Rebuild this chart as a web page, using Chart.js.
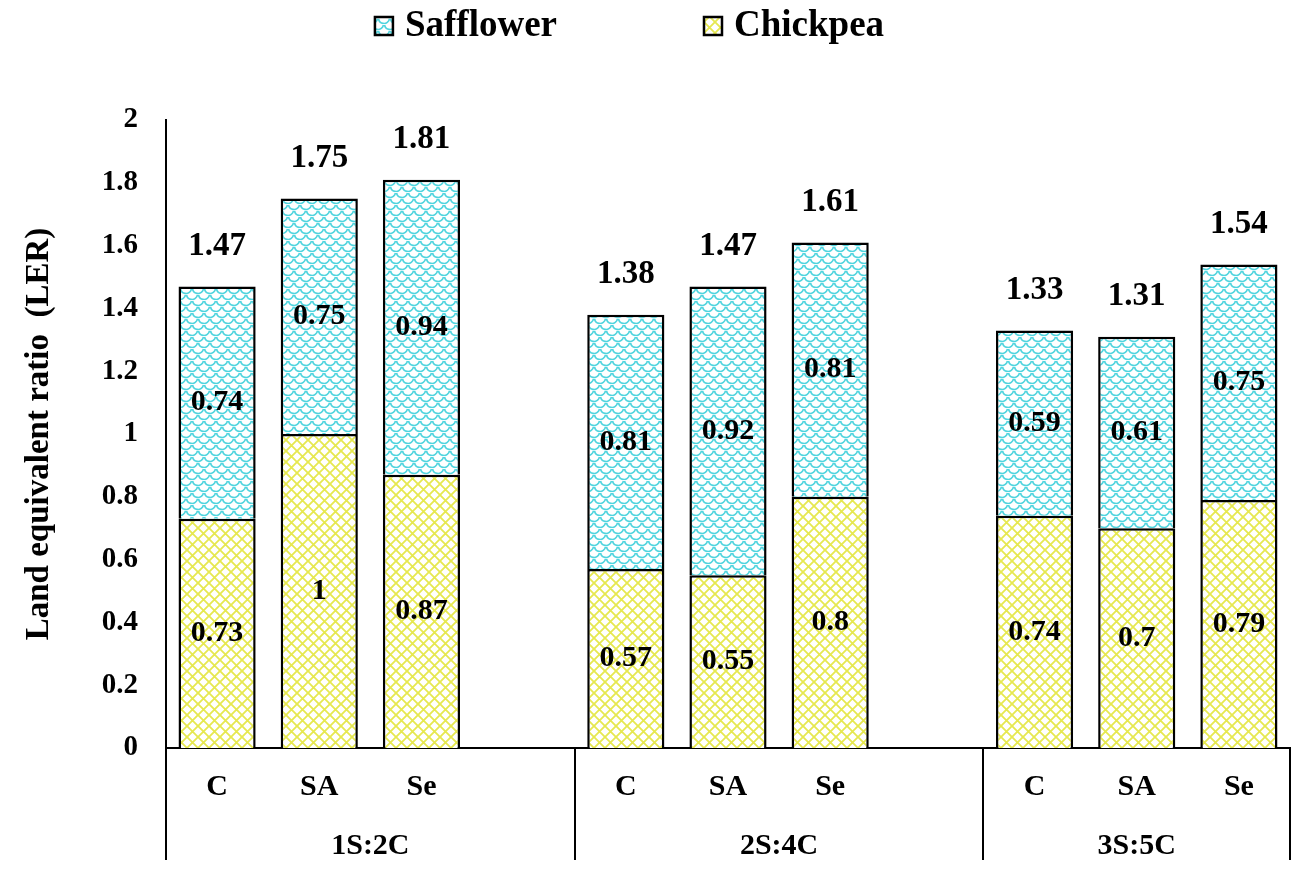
<!DOCTYPE html>
<html>
<head>
<meta charset="utf-8">
<script src="https://cdn.jsdelivr.net/npm/chart.js@4.4.1/dist/chart.umd.min.js"></script>
<style>
  html, body { margin: 0; padding: 0; background: #fff; }
  #wrap { width: 1299px; height: 871px; }
</style>
</head>
<body>
<div id="wrap"><canvas id="chart1"></canvas></div>
<script>
const groups = ['1S:2C', '2S:4C', '3S:5C'];
const treatments = ['C', 'SA', 'Se'];
// empty slot after each group, same as the sheet
const categories = ['C', 'SA', 'Se', '', 'C', 'SA', 'Se', '', 'C', 'SA', 'Se'];
const chickpea = [0.73, 1, 0.87, null, 0.57, 0.55, 0.8, null, 0.74, 0.7, 0.79];
const safflower = [0.74, 0.75, 0.94, null, 0.81, 0.92, 0.81, null, 0.59, 0.61, 0.75];
const totals = [1.47, 1.75, 1.81, null, 1.38, 1.47, 1.61, null, 1.33, 1.31, 1.54];
const yTicks = ['0', '0.2', '0.4', '0.6', '0.8', '1', '1.2', '1.4', '1.6', '1.8', '2'];

const SERIF = "'Liberation Serif', 'Times New Roman', serif";

const canvas = document.getElementById('chart1');
const c2d = canvas.getContext('2d');

function makeTile(size, draw) {
    const t = document.createElement('canvas');
    t.width = size;
    t.height = size;
    const g = t.getContext('2d');
    g.fillStyle = '#fff';
    g.fillRect(0, 0, size, size);
    draw(g, size);
    return c2d.createPattern(t, 'repeat');
}

// yellow diagonal cross hatch
const yellowHatch = makeTile(11, (g, s) => {
    g.strokeStyle = 'rgb(230,232,80)';
    g.lineWidth = 1.8;
    g.beginPath();
    g.moveTo(-1, -1); g.lineTo(s + 1, s + 1);
    g.moveTo(-1, s + 1); g.lineTo(s + 1, -1);
    g.stroke();
});

// cyan fish scales
const cyanScales = makeTile(12, (g, s) => {
    g.strokeStyle = 'rgb(80,212,222)';
    g.lineWidth = 1.7;
    const r = s / 2;
    [[r, 0], [0, r], [s, r], [r, s]].forEach(([cx, cy]) => {
        g.beginPath();
        g.arc(cx, cy, r - 0.5, 0.15, Math.PI - 0.15);
        g.stroke();
    });
});

const barLabels = {
    id: 'barLabels',
    afterDatasetsDraw(chart) {
        const ctx = chart.ctx;
        const y = chart.scales.y;
        ctx.save();
        ctx.fillStyle = '#000';
        ctx.textAlign = 'center';
        ctx.textBaseline = 'middle';
        ctx.font = 'bold 30px ' + SERIF;
        chart.data.datasets.forEach((ds, di) => {
            chart.getDatasetMeta(di).data.forEach((bar, i) => {
                if (ds.data[i] == null) return;
                ctx.fillText(String(ds.data[i]), bar.x, (bar.y + bar.base) / 2);
            });
        });
        ctx.font = 'bold 33px ' + SERIF;
        const top = chart.getDatasetMeta(chart.data.datasets.length - 1).data;
        totals.forEach((t, i) => {
            if (t == null) return;
            ctx.fillText(t.toFixed(2), top[i].x, y.getPixelForValue(t) - 40);
        });
        ctx.restore();
    },
    afterDraw(chart) {
        const ctx = chart.ctx;
        const x = chart.scales.x;
        ctx.save();
        ctx.fillStyle = '#000';
        ctx.textAlign = 'center';
        ctx.textBaseline = 'middle';
        ctx.font = 'bold 30px ' + SERIF;
        groups.forEach((g, gi) => {
            const first = gi * (treatments.length + 1);
            const last = Math.min(first + treatments.length, categories.length - 1);
            const cx = (x.getPixelForValue(first) + x.getPixelForValue(last)) / 2;
            ctx.fillText(g, cx, x.top + 98);
        });

        // legend, top series first
        const items = chart.data.datasets.slice().reverse();
        ctx.font = 'bold 37px ' + SERIF;
        ctx.textAlign = 'left';
        const box = 18, gapTxt = 12, gapItem = 147;
        const widths = items.map(d => box + gapTxt + ctx.measureText(d.label).width);
        const total = widths.reduce((a, b) => a + b, 0) + gapItem * (items.length - 1);
        let lx = chart.width / 2 - 20 - total / 2;
        const ly = 26;
        items.forEach((d, i) => {
            ctx.fillStyle = d.backgroundColor;
            ctx.fillRect(lx, ly - box / 2, box, box);
            ctx.strokeStyle = '#000';
            ctx.lineWidth = 2.5;
            ctx.strokeRect(lx, ly - box / 2, box, box);
            ctx.fillStyle = '#000';
            ctx.fillText(d.label, lx + box + gapTxt, ly);
            lx += widths[i] + gapItem;
        });
        ctx.restore();
    }
};

const tickFont = { family: SERIF, weight: 'bold' };

new Chart('chart1', {
    type: 'bar',
    data: {
        labels: categories,
        datasets: [
            {
                label: 'Chickpea',
                data: chickpea,
                backgroundColor: yellowHatch,
                borderColor: '#000',
                borderWidth: 2.5,
                barPercentage: 0.755,
                categoryPercentage: 1
            },
            {
                label: 'Safflower',
                data: safflower,
                backgroundColor: cyanScales,
                borderColor: '#000',
                borderWidth: 2.5,
                barPercentage: 0.755,
                categoryPercentage: 1
            }
        ]
    },
    options: {
        responsive: true,
        maintainAspectRatio: false,
        animation: false,
        layout: { padding: { top: 120, right: 9, bottom: 0, left: 10 } },
        plugins: {
            legend: { display: false },
            tooltip: { enabled: false }
        },
        scales: {
            x: {
                stacked: true,
                afterFit: s => { s.height = 123; },
                grid: {
                    drawOnChartArea: false,
                    drawTicks: true,
                    tickLength: 112,
                    lineWidth: 2,
                    color: c => (c.type !== 'tick' || c.index % (treatments.length + 1) === 0) ? '#000' : 'rgba(0,0,0,0)'
                },
                border: { display: true, color: '#000', width: 2 },
                ticks: {
                    autoSkip: false,
                    maxRotation: 0,
                    padding: -91,
                    color: '#000',
                    font: { ...tickFont, size: 30 }
                }
            },
            y: {
                stacked: true,
                min: 0,
                max: 2,
                afterFit: s => { s.width = 156; },
                grid: { display: false, drawTicks: false },
                border: { display: true, color: '#000', width: 2 },
                ticks: {
                    stepSize: 0.2,
                    padding: 28,
                    color: '#000',
                    font: { ...tickFont, size: 29 },
                    callback: (v, i) => yTicks[i]
                },
                title: {
                    display: true,
                    text: 'Land equivalent ratio  (LER)',
                    color: '#000',
                    font: { ...tickFont, size: 33 },
                    padding: { top: 10, bottom: 0 }
                }
            }
        }
    },
    plugins: [barLabels]
});
</script>
</body>
</html>
